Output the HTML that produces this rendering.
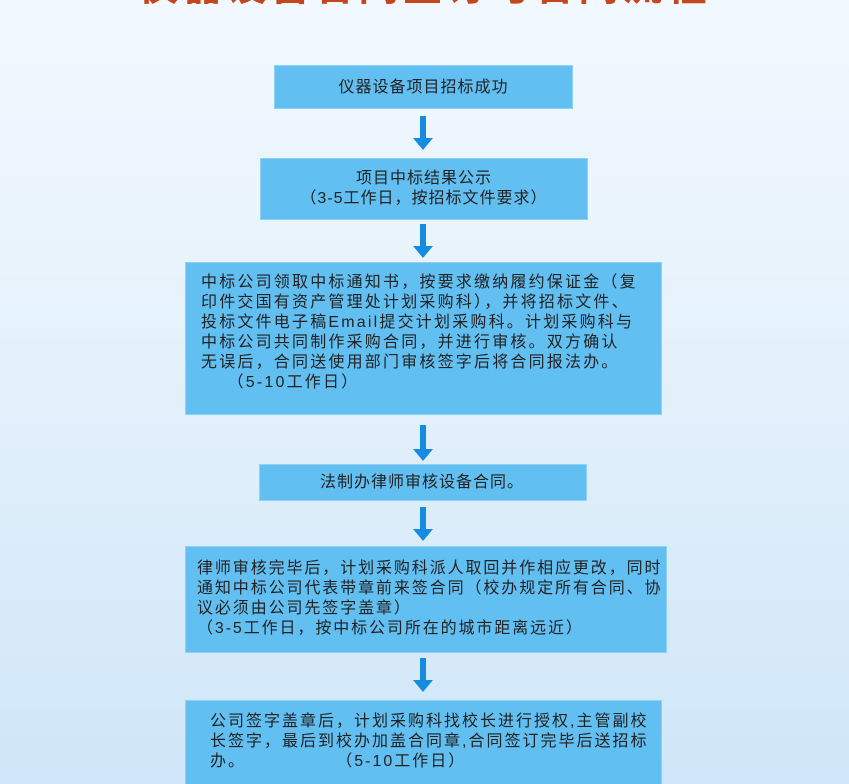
<!DOCTYPE html>
<html><head><meta charset="utf-8">
<style>
html,body{margin:0;width:849px;height:784px;overflow:hidden;}
body{position:relative;
background:linear-gradient(#f2f8ff,#e6f2fc 40%,#cfe6f8);
font-family:"Liberation Sans","Noto Sans CJK SC",sans-serif;color:#222;}
.b{position:absolute;background:#62bff2;border:1px solid #8fd0f5;box-sizing:border-box;font-size:16px;letter-spacing:2px;line-height:20px;white-space:nowrap;}
.c{text-align:center;}
.a{position:absolute;left:418px;width:11px;}
.a:before{content:"";position:absolute;left:2px;top:0;width:6px;height:var(--h);background:#168ce0;}
.a:after{content:"";position:absolute;left:-5px;top:var(--h);border-left:10.5px solid transparent;border-right:10.5px solid transparent;border-top:12px solid #168ce0;}
.t{position:absolute;left:0;width:849px;top:-36px;text-align:center;font-size:40px;line-height:46px;font-weight:bold;color:#c4461c;letter-spacing:4px;}
</style></head><body>
<div class="t">仪器设备合同签订与合同流程</div>
<div class="b c" style="left:274px;top:65px;width:299px;height:44px;line-height:44px;letter-spacing:1px;">仪器设备项目招标成功</div>
<div class="a" style="top:116px;--h:22px"></div>
<div class="b c" style="left:260px;top:158px;width:328px;height:62px;padding-top:10px;letter-spacing:1px;">项目中标结果公示<br>（3-5工作日，按招标文件要求）</div>
<div class="a" style="top:224px;--h:22px"></div>
<div class="b" style="left:185px;top:262px;width:477px;height:153px;padding:10px 0 0 15px;letter-spacing:2.2px;">中标公司领取中标通知书，按要求缴纳履约保证金（复<br>印件交国有资产管理处计划采购科），并将招标文件、<br>投标文件电子稿Email提交计划采购科。计划采购科与<br>中标公司共同制作采购合同，并进行审核。双方确认<br>无误后，合同送使用部门审核签字后将合同报法办。<br>&nbsp;&nbsp;&nbsp;&nbsp;（5-10工作日）</div>
<div class="a" style="top:425px;--h:24px"></div>
<div class="b" style="left:259px;top:464px;width:328px;height:37px;line-height:36px;padding-left:60px;letter-spacing:1px;">法制办律师审核设备合同。</div>
<div class="a" style="top:507px;--h:22px"></div>
<div class="b" style="left:185px;top:546px;width:482px;height:107px;padding:12px 0 0 11px;letter-spacing:1.9px;">律师审核完毕后，计划采购科派人取回并作相应更改，同时<br>通知中标公司代表带章前来签合同（校办规定所有合同、协<br>议必须由公司先签字盖章）<br>（3-5工作日，按中标公司所在的城市距离远近）</div>
<div class="a" style="top:658px;--h:22px"></div>
<div class="b" style="left:185px;top:700px;width:477px;height:90px;padding:11px 0 0 24px;">公司签字盖章后，计划采购科找校长进行授权,主管副校<br>长签字，最后到校办加盖合同章,合同签订完毕后送招标<br>办。&nbsp;&nbsp;&nbsp;&nbsp;&nbsp;&nbsp;&nbsp;&nbsp;&nbsp;&nbsp;&nbsp;&nbsp;&nbsp;&nbsp;（5-10工作日）</div>
</body></html>
